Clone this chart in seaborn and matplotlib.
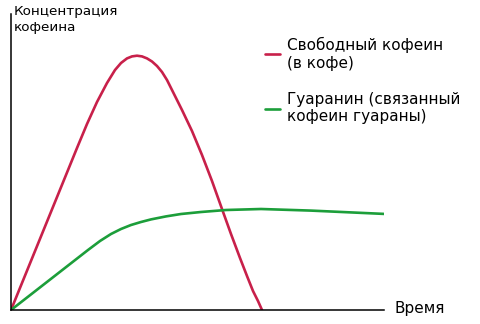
import numpy as np
import pandas as pd
import matplotlib
matplotlib.use("Agg")
import matplotlib.pyplot as plt
import seaborn as sns

# Data (arbitrary units)
free_x = [0, 66, 76, 86, 96, 104, 110, 116, 121, 126, 131, 136, 141, 146, 151, 156,
          161, 171, 181, 191, 201, 211, 220, 229, 236, 242, 247, 251]
free_y = [0, 162, 186, 208, 227, 240, 247, 251.6, 253.6, 254.3, 253.6, 251.6, 248.5, 244, 238, 230,
          220, 200, 179, 155, 129, 101, 76, 52, 34, 19, 9, 0]
guar_x = [0, 77, 89, 100, 110, 120, 130, 140, 155, 170, 190, 215, 250, 300, 375]
guar_y = [0, 60, 69, 76, 81, 85, 88, 90.6, 93.6, 96, 98, 100, 101, 99.4, 96]

label_free = "Свободный кофеин\n(в кофе)"
label_guar = "Гуаранин (связанный\nкофеин гуараны)"
y_label = "Концентрация\nкофеина"
x_label = "Время"

df = pd.concat([
    pd.DataFrame({"t": free_x, "c": free_y, "s": label_free}),
    pd.DataFrame({"t": guar_x, "c": guar_y, "s": label_guar}),
])

sns.set_style("white")
plt.rcParams["font.family"] = ["DejaVu Sans"]
plt.rcParams["text.color"] = "black"

fig = plt.figure(figsize=(4.8, 3.24), dpi=100)
ax = fig.add_axes([11/480, 14/324, 373/480, 296/324])
palette = {label_free: "#c8204a", label_guar: "#1c9e3a"}
sns.lineplot(data=df, x="t", y="c", hue="s", palette=palette, linewidth=1.9,
             ax=ax, sort=False, estimator=None)
for ln in ax.get_lines():
    ln.set_solid_joinstyle("round")
ax.set_xlim(0, 373)
ax.set_ylim(0, 296)
ax.set_xticks([])
ax.set_yticks([])
ax.set_xlabel("")
ax.set_ylabel("")
for s in ["top", "right"]:
    ax.spines[s].set_visible(False)
for s in ["left", "bottom"]:
    ax.spines[s].set_color("black")
    ax.spines[s].set_linewidth(1.1)

fig.text(14/480, 1 - 5/324, y_label, fontsize=9.7, va="top", ha="left",
         linespacing=1.25, color="black")
fig.text(394/480, 1 - 309/324, x_label, fontsize=11, va="center", ha="left",
         color="black")

leg = ax.legend(loc="upper left", bbox_to_anchor=(265/480, 1 - 37/324),
                bbox_transform=fig.transFigure, frameon=False, fontsize=11,
                handlelength=1.0, handletextpad=0.45, labelspacing=1.4,
                borderaxespad=0, borderpad=0)
for t in leg.get_texts():
    t.set_linespacing(1.2)
    t.set_color("black")

fig.savefig("out.png", dpi=100)
